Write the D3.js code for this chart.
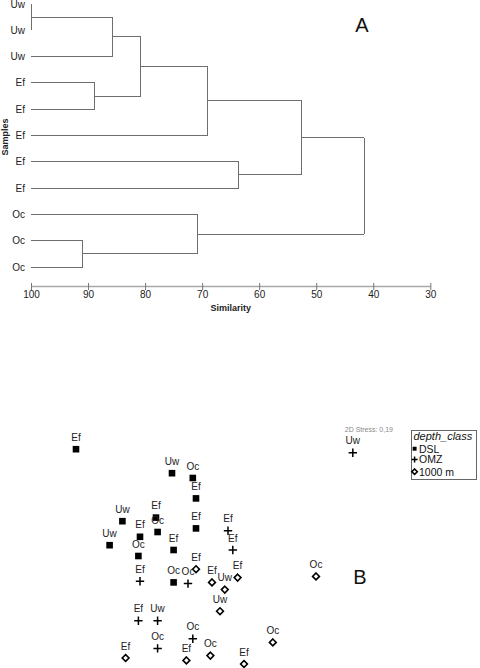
<!DOCTYPE html>
<html><head><meta charset="utf-8">
<script src="https://cdn.jsdelivr.net/npm/d3@7"></script>
<style>body{margin:0;background:#fff}svg{display:block;font-family:"Liberation Sans",Arial,sans-serif}</style>
</head><body><svg id="c" width="480" height="668"></svg>
<script>
// ---- Dendrogram (A) data ----
const leafLabels = ["Uw","Uw","Uw","Ef","Ef","Ef","Ef","Ef","Oc","Oc","Oc"];
// linkage: [childA, childB, similarity]; new cluster ids start at leafLabels.length
const merges = [
  [0,1,100],[11,2,85.7],[3,4,88.8],[12,13,80.8],[14,5,69.1],
  [6,7,63.6],[15,16,52.5],[9,10,90.9],[8,18,70.8],[17,19,41.6]
];
const simTicks = [100,90,80,70,60,50,40,30];

// ---- NMDS (B) data ----
const dslX   = [-0.90,-0.30,-0.17,-0.15,-0.61,-0.40,-0.39,-0.15,-0.50,-0.69,-0.51,-0.29,-0.29];
const dslY   = [0.84,0.64,0.60,0.43,0.24,0.27,0.15,0.18,0.11,0.04,-0.05,0.00,-0.27];
const dslLab = ["Ef","Uw","Oc","Ef","Uw","Ef","Oc","Ef","Ef","Uw","Oc","Ef","Oc"];
const omzX   = [0.83,0.05,0.08,-0.50,-0.20,-0.51,-0.39,-0.17,-0.39];
const omzY   = [0.81,0.16,0.00,-0.26,-0.28,-0.59,-0.59,-0.74,-0.82];
const omzLab = ["Uw","Ef","Ef","Ef","Oc","Ef","Uw","Oc","Oc"];
const deepX  = [-0.15,-0.05,0.03,0.11,0.00,0.60,0.33,0.15,-0.59,-0.21,-0.06];
const deepY  = [-0.16,-0.27,-0.33,-0.23,-0.51,-0.22,-0.77,-0.95,-0.90,-0.92,-0.88];
const deepLab= ["Ef","Ef","Uw","Ef","Uw","Oc","Oc","Ef","Ef","Ef","Oc"];
const classNames = ["DSL","OMZ","1000 m"];
const stressText = "2D Stress: 0,19";

const svg = d3.select("#c");

// ===== Dendrogram =====
const xS = d3.scaleLinear().domain([100,30]).range([31,430.3]);
const yS = d3.scalePoint().domain(d3.range(leafLabels.length)).range([4,267]);
const nodes = leafLabels.map((l,i)=>({sim:100, y:yS(i)}));
const segs = [];
merges.forEach(([a,b,s])=>{
  const A=nodes[a], B=nodes[b], xm=xS(s);
  segs.push([xS(A.sim),A.y,xm,A.y]);
  segs.push([xS(B.sim),B.y,xm,B.y]);
  segs.push([xm,A.y,xm,B.y]);
  nodes.push({sim:s, y:(A.y+B.y)/2});
});
const dg = svg.append("g");
dg.selectAll("line.seg").data(segs).join("line").attr("class","seg")
  .attr("x1",d=>d[0]).attr("y1",d=>d[1]).attr("x2",d=>d[2]).attr("y2",d=>d[3])
  .attr("stroke","#6e6e6e").attr("stroke-width",1).attr("shape-rendering","crispEdges");
dg.selectAll("text.leaf").data(leafLabels).join("text").attr("class","leaf")
  .attr("x",25).attr("y",(d,i)=>yS(i)+3.5).attr("text-anchor","end")
  .attr("font-size",10).attr("fill","#222").text(d=>d);

const axG = svg.append("g").attr("transform","translate(0,286)");
const ax = d3.axisBottom(xS).tickValues(simTicks).tickSize(4).tickSizeOuter(0);
axG.call(ax);
axG.select(".domain").attr("stroke","#a8a8a8").attr("stroke-width",1.6);
axG.selectAll(".tick line").attr("stroke","#777").attr("y1",-3).attr("y2",4);
axG.selectAll(".tick text").attr("font-size",10).attr("fill","#222").attr("dy","0.35em").attr("y",8)
  .attr("font-family","Liberation Sans, Arial, sans-serif");
svg.append("text").attr("x",xS(65)).attr("y",311).attr("text-anchor","middle")
  .attr("font-size",9).attr("font-weight","bold").attr("fill","#222").text("Similarity");
svg.append("text").attr("transform","translate(8,137) rotate(-90)").attr("text-anchor","middle")
  .attr("font-size",9).attr("font-weight","bold").attr("fill","#222").text("Samples");
svg.append("text").attr("x",362).attr("y",32).attr("text-anchor","middle")
  .attr("font-size",20).attr("fill","#111").text("A");

// ===== NMDS =====
const mx = d3.scaleLinear().domain([-1,1]).range([60,380]);
const my = d3.scaleLinear().domain([-1,1]).range([670,430]);
const pts = [];
dslX.forEach((v,i)=>pts.push({x:v,y:dslY[i],lab:dslLab[i],c:0}));
omzX.forEach((v,i)=>pts.push({x:v,y:omzY[i],lab:omzLab[i],c:1}));
deepX.forEach((v,i)=>pts.push({x:v,y:deepY[i],lab:deepLab[i],c:2}));

function marker(sel, c, k){
  if(c===0){
    const h=3.3*k;
    sel.append("rect").attr("x",-h).attr("y",-h).attr("width",2*h).attr("height",2*h).attr("fill","#000");
  } else if(c===1){
    const h=4.2*k;
    sel.append("path").attr("d",`M${-h},0H${h}M0,${-h}V${h}`).attr("stroke","#000").attr("stroke-width",1.5).attr("fill","none");
  } else {
    const h=3.4*k;
    sel.append("path").attr("d",`M0,${-h}L${h},0L0,${h}L${-h},0Z`).attr("stroke","#000").attr("stroke-width",1.6).attr("fill","#fff");
  }
}
const pg = svg.append("g");
pts.forEach(p=>{
  const g = pg.append("g").attr("transform",`translate(${mx(p.x)},${my(p.y)})`);
  marker(g,p.c,1);
});
pg.selectAll("text.pl").data(pts).join("text").attr("class","pl")
  .attr("x",d=>mx(d.x)).attr("y",d=>my(d.y)-8.5).attr("text-anchor","middle")
  .attr("font-size",10).attr("fill","#222").text(d=>d.lab);

svg.append("text").attr("x",393).attr("y",432).attr("text-anchor","end")
  .attr("font-size",7).attr("fill","#888").text(stressText);

// legend
const lg = svg.append("g");
lg.append("rect").attr("x",411).attr("y",430).attr("width",65.5).attr("height",49.5)
  .attr("fill","#fff").attr("stroke","#666").attr("stroke-width",1).attr("shape-rendering","crispEdges");
lg.append("text").attr("x",413.5).attr("y",439.5).attr("font-size",11).attr("font-style","italic")
  .attr("fill","#111").text("depth_class");
const legY = [448.7,459.5,471.7];
const legK = [0.6,0.72,0.8];
classNames.forEach((n,i)=>{
  const g = lg.append("g").attr("transform",`translate(414.6,${legY[i]})`);
  marker(g,i,legK[i]);
  lg.append("text").attr("x",419).attr("y",legY[i]+3.8).attr("font-size",10.5).attr("fill","#111").text(n);
});

svg.append("text").attr("x",360).attr("y",584).attr("text-anchor","middle")
  .attr("font-size",20).attr("fill","#111").text("B");
</script></body></html>
